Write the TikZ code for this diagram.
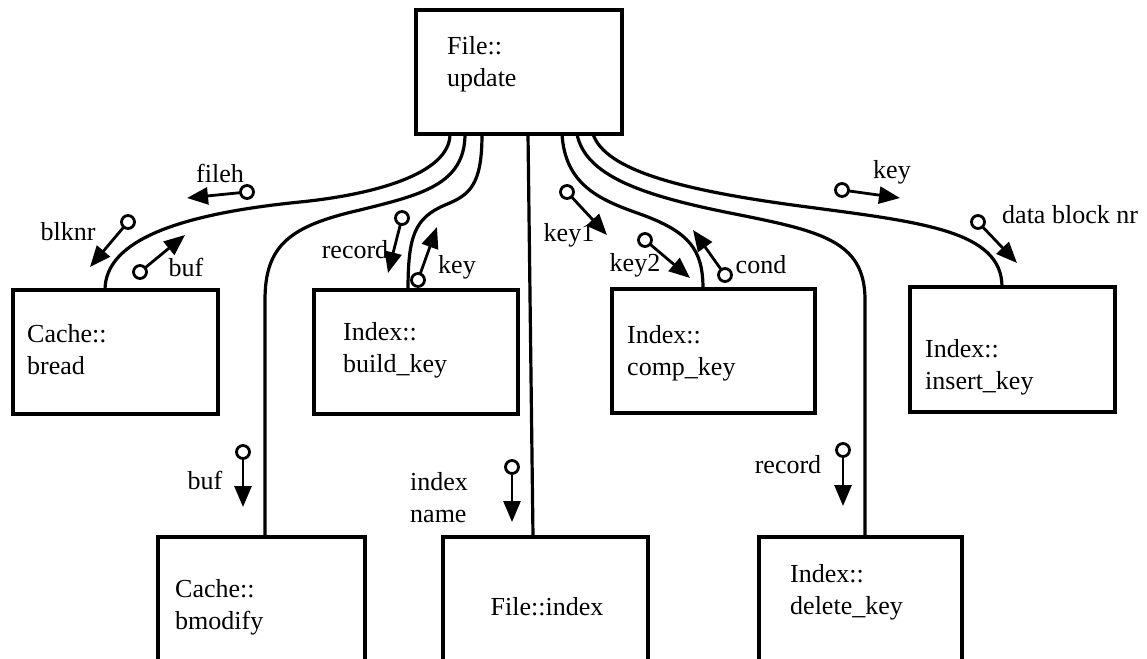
\documentclass[tikz,border=0pt]{standalone}
\usepackage{fontspec}
\setmainfont{Liberation Serif}
\usetikzlibrary{arrows.meta,calc}
\begin{document}
\begin{tikzpicture}[x=1pt,y=-1pt,
  font=\fontsize{26pt}{32pt}\selectfont,
  module/.style={draw,rectangle,line width=3.4pt,anchor=north west,
                 inner sep=0pt,outer sep=0pt},
  txt/.style={inner sep=0pt,align=left,anchor=west},
  lbl/.style={inner sep=0pt},
  flow/.style={line width=3.2pt},
  couple/.style={line width=2.8pt,-{Triangle[length=21pt,width=17pt]}},
  ring/.style={circle,draw,fill=white,line width=2.8pt,minimum size=13pt,inner sep=0pt}]

\useasboundingbox (0,0) rectangle (1147,658);
\clip (0,0) rectangle (1147,658);

% ---- modules ----
\node[module,minimum width=206pt,minimum height=124pt] (upd)    at (416,10)  {};
\node[module,minimum width=205pt,minimum height=124pt] (bread)  at (13,290)  {};
\node[module,minimum width=204pt,minimum height=124pt] (build)  at (314,290) {};
\node[module,minimum width=203pt,minimum height=124pt] (comp)   at (612,289) {};
\node[module,minimum width=205pt,minimum height=125pt] (insert) at (910,287) {};
\node[module,minimum width=207pt,minimum height=150pt] (bmod)   at (158,537) {};
\node[module,minimum width=205pt,minimum height=150pt] (findex) at (443,537) {};
\node[module,minimum width=203pt,minimum height=150pt] (del)    at (759,537) {};

% ---- module names ----
\node[txt] (t-upd)    at (447,64)  {File::\\update};
\node[txt] (t-bread)  at (27,350)  {Cache::\\bread};
\node[txt] (t-build)  at (343,350) {Index::\\build\_key};
\node[txt] (t-comp)   at (627,353) {Index::\\comp\_key};
\node[txt] (t-insert) at (925,367) {Index::\\insert\_key};
\node[txt] (t-bmod)   at (175,607) {Cache::\\bmodify};
\node[lbl] (t-findex) at (547,607) {File::index};
\node[txt] (t-del)    at (790,592) {Index::\\delete\_key};

% ---- calls ----
\draw[flow] ($(upd.south west)+(34,0)$)
  .. controls (450,175) and (370,195) .. (300,202)
  .. controls (180,214) and (105,240) .. ($(bread.north west)+(92,0)$);
\draw[flow] ($(upd.south west)+(49,0)$)
  .. controls (465,185) and (420,195) .. (360,210)
  .. controls (290,226) and (265,245) .. (265,300)
  -- ($(bmod.north west)+(107,0)$);
\draw[flow] ($(upd.south west)+(66,0)$)
  .. controls (482,185) and (470,195) .. (445,205)
  .. controls (415,218) and (408,235) .. ($(build.north west)+(94,0)$);
\draw[flow] ($(upd.south west)+(112,0)$) -- ($(findex.north west)+(90,0)$);
\draw[flow] ($(upd.south west)+(146,0)$)
  .. controls (565,185) and (600,200) .. (640,214)
  .. controls (690,232) and (703,250) .. ($(comp.north west)+(91,0)$);
\draw[flow] ($(upd.south west)+(161,0)$)
  .. controls (585,175) and (640,195) .. (730,213)
  .. controls (820,231) and (865,240) .. (865,300)
  -- ($(del.north west)+(106,0)$);
\draw[flow] ($(upd.south west)+(177,0)$)
  .. controls (605,170) and (680,190) .. (800,206)
  .. controls (920,222) and (1002,230) .. ($(insert.north west)+(92,0)$);

% ---- data couples: ring at the origin, arrow head at the tip ----
\foreach \n/\ox/\oy/\tx/\ty in {
    fileh/247/192/187/198, blknr/128/222/90/267, bufup/140/272/185/235,
    recup/402/218/388/273, keyup/418/280/437/227,
    keyone/567/192/607/235, keytwo/645/240/690/278, cond/725/275/693/230,
    keyins/842/190/900/198, dbnr/978/222/1017/263,
    bufdn/243/452/243/507, idxname/512/467/512/522, recdn/843/450/843/506}{
  \coordinate (\n-o) at (\ox,\oy);
  \coordinate (\n-t) at (\tx,\ty);
  \draw[couple] (\n-o) -- (\n-t);
  \node[ring] (\n-ring) at (\n-o) {};
}

% ---- couple labels ----
\node[lbl] (l-fileh)  at (220,173) {fileh};
\node[lbl] (l-blknr)  at (68,232)  {blknr};
\node[lbl] (l-bufup)  at (186,267) {buf};
\node[lbl] (l-recup)  at (355,250) {record};
\node[lbl] (l-keyup)  at (457,267) {key};
\node[lbl] (l-keyone) at (569,235) {key1};
\node[lbl] (l-keytwo) at (635,265) {key2};
\node[lbl] (l-cond)   at (761,265) {cond};
\node[lbl] (l-keyins) at (892,172) {key};
\node[lbl,anchor=west] (l-dbnr) at (1002,215) {data block nr};
\node[lbl] (l-bufdn)  at (205,480) {buf};
\node[txt] (l-idxname) at (410,498) {index\\name};
\node[lbl] (l-recdn)  at (788,465) {record};

\end{tikzpicture}
\end{document}
